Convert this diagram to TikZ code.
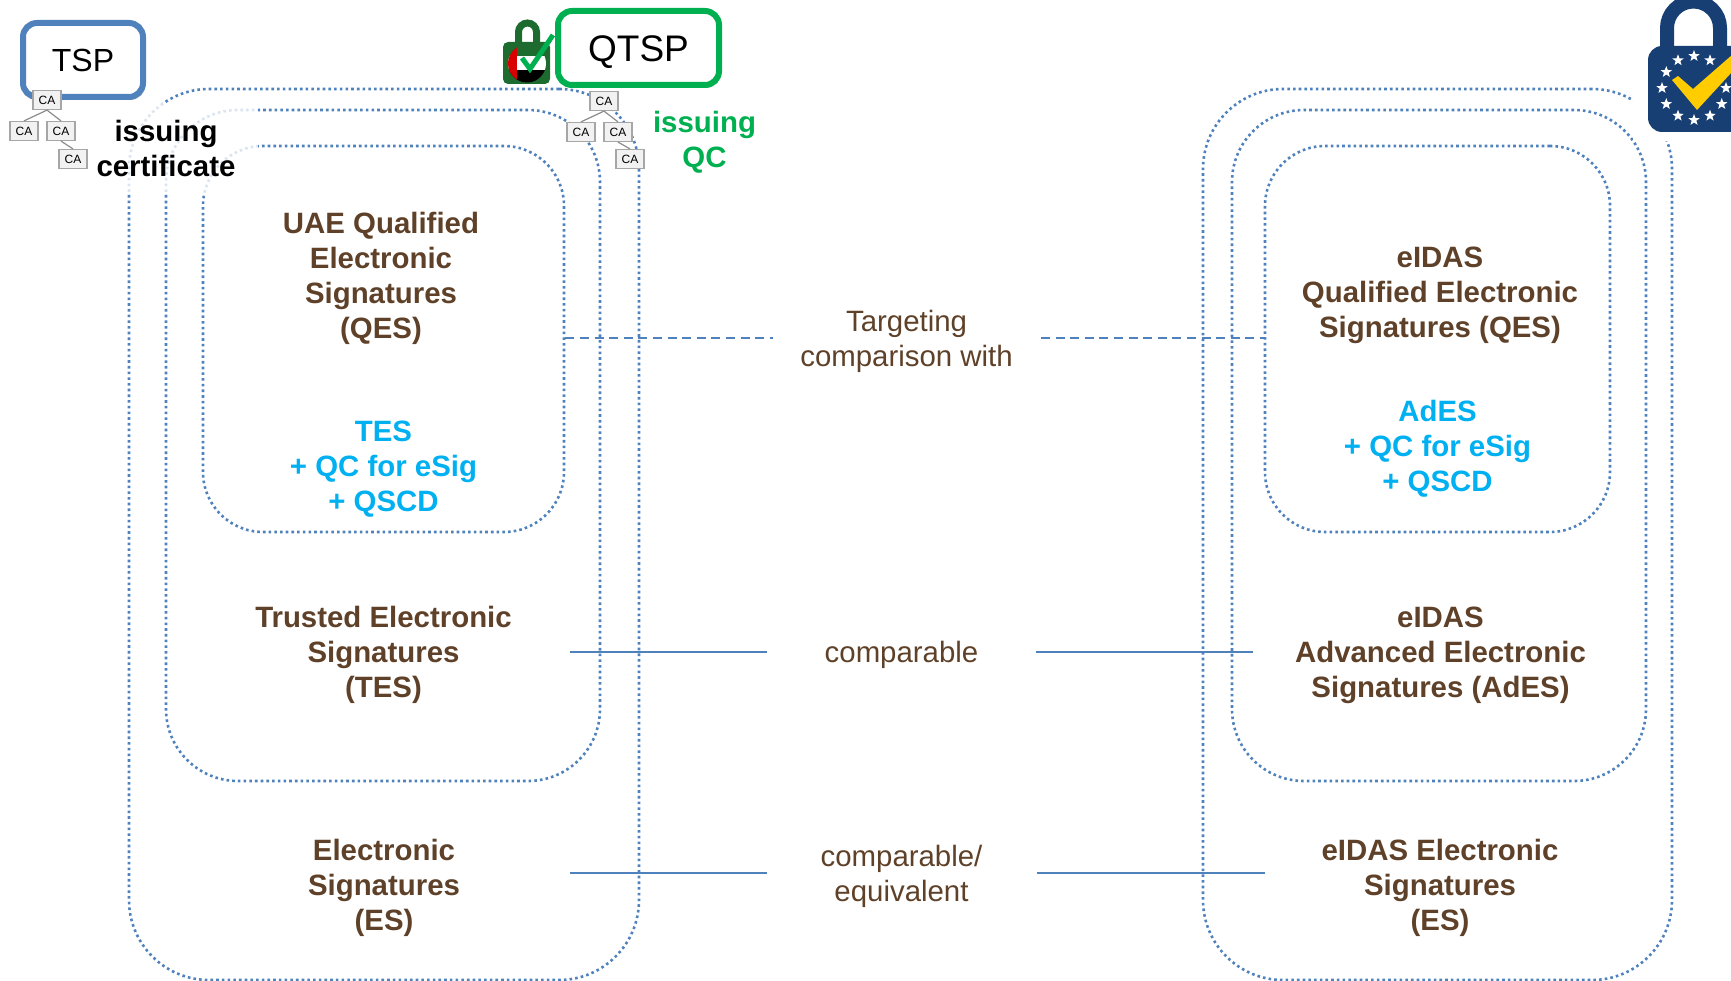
\documentclass[tikz,border=0pt]{standalone}
\usepackage{fontspec}
\setmainfont{Liberation Sans}
\usetikzlibrary{calc}
\usetikzlibrary{shadows}
\usetikzlibrary{shapes.geometric}
\definecolor{linkblue}{HTML}{4F81BD}
\definecolor{qgreen}{HTML}{00B050}
\definecolor{darkbrown}{HTML}{5E4128}
\definecolor{cyanblue}{HTML}{00B0F0}
\definecolor{lockgreen}{HTML}{1E6B30}
\definecolor{eublue}{HTML}{173F74}
\definecolor{eugold}{HTML}{FFCC00}

\begin{document}
\begin{tikzpicture}[
    x=1pt, y=-1pt,
    group box/.style={draw=linkblue, line width=2.6pt, dash pattern=on 2.6pt off 3.1pt, rounded corners=#1},
    dashed line/.style={linkblue, line width=2pt, dash pattern=on 9pt off 5.6pt},
    solid line/.style={linkblue, line width=2pt},
    title/.style={font=\fontsize{29.4}{35}\selectfont\bfseries, text=darkbrown, align=center},
    detail/.style={font=\fontsize{29.4}{35}\selectfont\bfseries, text=cyanblue, align=center},
    remark/.style={font=\fontsize{29.4}{35}\selectfont, text=darkbrown, align=center},
    issuer/.style={fill=white, line width=6pt, rounded corners=14pt, text depth=0pt, drop shadow={shadow xshift=2pt, shadow yshift=-3pt, opacity=.25}},
    ca/.style={draw=black!35, fill=black!5, line width=1.2pt, minimum width=28pt, minimum height=19pt, inner sep=0pt, font=\fontsize{12}{12}\selectfont},
    ca line/.style={black!45, line width=1.2pt}
    ]
    \useasboundingbox (0,0) rectangle (1731,981);
    \clip (0,0) rectangle (1731,981);

    % groups, left
    \node[group box=80pt, minimum width=510pt, minimum height=891pt] (leftouter) at (384,534.5) {};
    \node[group box=72pt, minimum width=434pt, minimum height=671pt] (leftmiddle) at (383,445.5) {};
    \node[group box=60pt, minimum width=361pt, minimum height=386pt] (leftinner) at (383.5,339) {};
    % groups, right
    \node[group box=80pt, minimum width=469pt, minimum height=891pt] (rightouter) at (1437.5,534.5) {};
    \node[group box=72pt, minimum width=414pt, minimum height=671pt] (rightmiddle) at (1439,445.5) {};
    \node[group box=60pt, minimum width=345pt, minimum height=386pt] (rightinner) at (1437.5,339) {};

    % white veils
    \fill[white, opacity=.8] (75,103) rectangle (258,193);
    \fill[white] (1633,0) rectangle (1731,141);

    % labels
    \node[title] (uaeqes) at (381,278) {UAE Qualified\\Electronic\\Signatures\\(QES)};
    \node[detail] (tesqc) at (383.5,469) {TES\\+ QC for eSig\\+ QSCD};
    \node[title] (tes) at (383.5,655) {Trusted Electronic\\Signatures\\(TES)};
    \node[title] (es) at (384,888) {Electronic\\Signatures\\(ES)};
    \node[title] (eidasqes) at (1440,295) {eIDAS\\Qualified Electronic\\Signatures (QES)};
    \node[detail] (adesqc) at (1437.5,449) {AdES\\+ QC for eSig\\+ QSCD};
    \node[title] (eidasades) at (1440.5,655) {eIDAS\\Advanced Electronic\\Signatures (AdES)};
    \node[title] (eidases) at (1440,888) {eIDAS Electronic\\Signatures\\(ES)};
    \node[remark] (targeting) at (906.5,341.5) {Targeting\\comparison with};
    \node[remark] (comparable) at (901.5,654.5) {comparable};
    \node[remark] (equivalent) at (901.5,876) {comparable/\\equivalent};

    % connectors
    \coordinate (targetL) at (773,338);
    \coordinate (targetR) at (1041,338);
    \coordinate (compA) at (570,652);
    \coordinate (compB) at (767,652);
    \coordinate (compC) at (1036,652);
    \coordinate (compD) at (1253,652);
    \coordinate (equiA) at (570,873);
    \coordinate (equiB) at (767,873);
    \coordinate (equiC) at (1037,873);
    \coordinate (equiD) at (1265,873);
    \draw[dashed line] (leftinner.east |- targetL) -- (targetL);
    \draw[dashed line] (targetR) -- (rightinner.west |- targetR);
    \draw[solid line] (compA) -- (compB);
    \draw[solid line] (compC) -- (compD);
    \draw[solid line] (equiA) -- (equiB);
    \draw[solid line] (equiC) -- (equiD);

    % TSP
    \node[issuer, draw=linkblue, text height=23pt, minimum width=120pt, minimum height=74pt, inner sep=0pt, font=\fontsize{32}{32}\selectfont] (tsp) at (83,60) {TSP};
    \node[ca] (caA) at (47,100) {CA};
    \node[ca] (caB) at (24,131) {CA};
    \node[ca] (caC) at (61,131) {CA};
    \node[ca] (caD) at (73,159) {CA};
    \draw[ca line] (caA.south) -- (caB.north);
    \draw[ca line] (caA.south) -- (caC.north);
    \draw[ca line] (caC.south) -- (caD.north);
    \node[font=\fontsize{29.4}{35}\selectfont\bfseries, align=center] (issuecert) at (166,148) {issuing\\certificate};

    % QTSP
    \node[issuer, draw=qgreen, text height=26.5pt, minimum width=161pt, minimum height=74pt, inner sep=0pt, font=\fontsize{37}{37}\selectfont] (qtsp) at (638.5,48) {QTSP};
    \node[ca] (cbA) at (604,101) {CA};
    \node[ca] (cbB) at (581,132) {CA};
    \node[ca] (cbC) at (618,132) {CA};
    \node[ca] (cbD) at (630,159) {CA};
    \draw[ca line] (cbA.south) -- (cbB.north);
    \draw[ca line] (cbA.south) -- (cbC.north);
    \draw[ca line] (cbC.south) -- (cbD.north);
    \node[font=\fontsize{29.4}{35}\selectfont\bfseries, text=qgreen, align=center] (issueqc) at (704.5,142) {issuing\\QC};

    % green lock
    \draw[lockgreen, line width=7pt] (518.5,48) -- (518.5,32) arc (180:360:9) -- (536.5,48);
    \fill[lockgreen, rounded corners=5pt] (503,42) rectangle (550,84);
    \begin{scope}
      \clip (527,63.5) circle (19);
      \fill[lockgreen] (508,44) rectangle (546,56);
      \fill[white] (508,56) rectangle (546,70);
      \fill[black] (508,70) rectangle (546,83);
      \fill[red!85!black] (508,44) rectangle (517,83);
    \end{scope}
    \draw[qgreen, line width=5pt] (522,58) -- (530,69) -- (553,35);

    % EU lock
    \draw[eublue, line width=14pt] (1667,50) -- (1667,28) arc (180:360:26.5) -- (1720,50);
    \fill[eublue, rounded corners=14pt] (1648,46) rectangle (1760,132);
    \foreach \a in {0,30,...,330} {
      \node[star, star points=5, star point ratio=2.4, fill=white, inner sep=0pt, minimum size=12pt] (eustar\a) at ($(1694,88)+(\a:32)$) {};
    }
    \fill[eugold] (1672,80) -- (1678,76) -- (1693,89) -- (1732,55) -- (1732,72) -- (1697,110) -- cycle;
\end{tikzpicture}
\end{document}
